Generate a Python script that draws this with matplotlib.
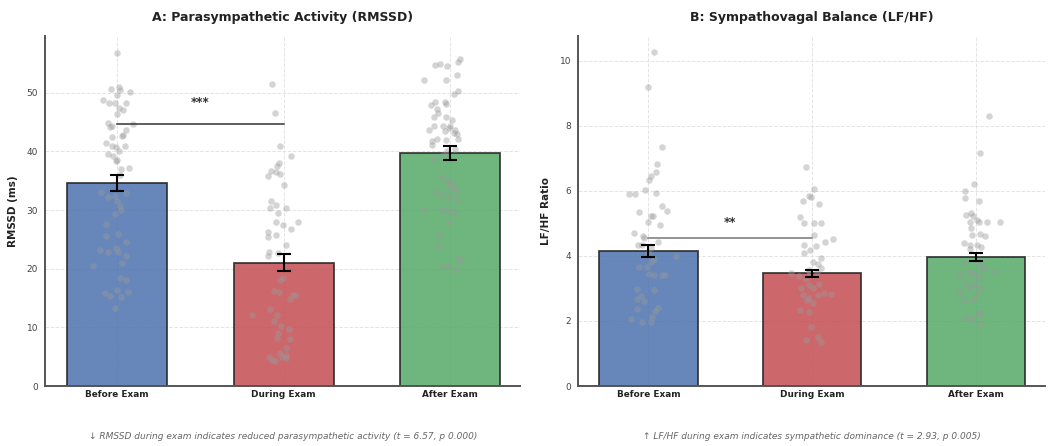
import numpy as np
import matplotlib
matplotlib.use("Agg")
import matplotlib.pyplot as plt

conditions = ["Before Exam", "During Exam", "After Exam"]
bar_colors = ["#4C72B0", "#C44E52", "#55A868"]

# bar heights and SEM
rmssd_mean = [34.6, 21.0, 39.7]
rmssd_sem = [1.4, 1.45, 1.15]
lfhf_mean = [4.15, 3.47, 3.98]
lfhf_sem = [0.18, 0.11, 0.12]

# individual subjects (values) and their horizontal jitter
rmssd_before = [56.8, 50.6, 51.0, 49.7, 50.1, 50.4, 48.8, 48.3, 48.2, 48.3, 47.4, 46.4, 47.1,
                44.8, 44.4, 44.1, 44.6, 43.6, 42.8, 42.6, 42.5, 41.4, 41.0, 40.8, 40.9, 39.5,
                39.3, 40.0, 38.6, 38.4, 37.1, 37.0, 35.9, 33.0, 32.2, 32.4, 32.9, 31.5, 30.7,
                30.0, 29.4, 27.6, 25.5, 26.0, 24.6, 23.2, 22.9, 23.5, 22.9, 21.0, 22.1, 20.4,
                18.5, 18.0, 15.8, 15.4, 16.4, 15.2, 16.1, 13.3]
rmssd_before_jit = [0.0, -0.036, 0.012, 0.0, 0.078, 0.018, -0.084, -0.046, -0.012, 0.056, 0.012,
                    0.0, 0.04, -0.052, -0.03, -0.042, 0.1, 0.054, 0.04, 0.032, -0.026, -0.062,
                    -0.026, -0.006, 0.048, -0.052, -0.022, 0.014, 0.004, -0.002, 0.072, 0.024,
                    0.018, -0.092, -0.052, -0.012, 0.058, 0.002, 0.018, 0.028, -0.012, -0.062,
                    -0.066, 0.008, 0.058, -0.102, -0.052, -0.002, 0.008, 0.032, 0.058, -0.143,
                    0.018, 0.054, -0.072, -0.042, 0.002, 0.028, 0.068, -0.012]
rmssd_during = [51.5, 46.6, 41.0, 39.2, 38.1, 37.5, 36.2, 36.5, 35.8, 36.6, 34.2, 31.6, 30.9,
                30.4, 30.4, 29.5, 28.0, 27.4, 28.0, 26.8, 26.2, 25.8, 25.4, 24.1, 22.9, 22.7,
                22.1, 18.4, 18.0, 16.2, 16.0, 15.5, 14.9, 15.5, 13.1, 12.1, 11.1, 12.1, 10.3,
                9.8, 9.0, 8.2, 8.1, 6.5, 5.0, 4.3, 4.9, 5.3, 4.8, 5.6, 4.4]
rmssd_during_jit = [-0.068, -0.05, -0.024, 0.042, -0.028, -0.038, -0.02, -0.048, -0.094, -0.074,
                    0.002, -0.074, -0.044, 0.012, -0.084, -0.034, -0.046, -0.004, 0.086, 0.042,
                    -0.094, -0.044, -0.094, 0.016, -0.088, -0.034, -0.094, -0.004, -0.02, -0.06,
                    -0.028, 0.056, 0.036, 0.072, -0.08, -0.04, -0.06, -0.189, -0.014, 0.032,
                    -0.034, -0.038, 0.04, 0.012, -0.088, -0.054, -0.01, 0.012, 0.016, -0.02, -0.07]
rmssd_after = [55.8, 55.2, 54.9, 54.7, 54.5, 52.2, 52.2, 53.1, 50.3, 49.8, 48.5, 48.4, 47.9,
               48.1, 47.2, 46.5, 45.8, 45.9, 45.4, 44.3, 44.3, 44.3, 43.6, 43.4, 44.0, 43.7,
               43.2, 43.0, 42.1, 41.8, 42.1, 42.0, 41.1, 40.4, 40.1, 38.7, 39.4, 35.6, 35.2,
               34.8, 33.8, 33.0, 32.6, 32.2, 31.9, 33.4, 34.1, 30.2, 30.0, 29.8, 29.6, 27.9,
               25.8, 23.9, 20.4, 20.5, 21.8, 21.4, 19.7]
rmssd_after_jit = [0.06, 0.048, -0.064, -0.09, -0.02, -0.158, -0.028, 0.042, 0.046, 0.022,
                   -0.034, -0.094, -0.118, -0.024, -0.078, -0.076, -0.098, -0.024, 0.01, -0.044,
                   -0.1, -0.002, 0.026, -0.034, -0.01, -0.126, 0.02, 0.042, 0.048, -0.11, -0.08,
                   -0.024, -0.11, 0.026, -0.018, -0.1, -0.044, -0.054, -0.02, 0.006, 0.016,
                   -0.086, -0.044, -0.004, 0.042, 0.036, -0.01, -0.158, -0.05, -0.012, 0.026,
                   -0.008, -0.07, -0.07, -0.044, -0.01, 0.05, 0.06, 0.034]

lfhf_before = [10.26, 9.21, 7.35, 6.83, 6.58, 6.47, 6.33, 6.02, 5.90, 5.90, 5.94, 5.55, 5.38,
               5.36, 5.24, 5.22, 5.06, 4.95, 4.70, 4.63, 4.55, 4.35, 4.33, 4.43, 4.25, 4.10,
               4.0, 3.67, 3.65, 3.82, 3.92, 3.45, 3.40, 3.43, 3.40, 2.97, 2.95, 2.77, 2.67,
               2.62, 2.36, 2.39, 2.32, 2.07, 2.13, 1.98, 1.98]
lfhf_before_jit = [0.037, -0.004, 0.082, 0.055, 0.049, 0.016, 0.004, -0.023, -0.118, -0.08,
                   0.049, 0.082, 0.115, -0.06, 0.018, 0.026, 0.0, 0.072, -0.086, -0.031, -0.025,
                   -0.066, -0.037, 0.057, 0.016, 0.0, 0.168, -0.055, -0.01, 0.016, 0.031, 0.004,
                   0.031, 0.082, 0.102, -0.072, 0.031, -0.047, -0.072, -0.025, -0.072, 0.061,
                   0.041, -0.108, 0.02, -0.041, 0.016]
lfhf_during = [6.75, 6.05, 5.83, 5.80, 5.68, 5.61, 5.19, 5.0, 5.0, 5.0, 4.65, 4.44, 4.52, 4.33,
               4.30, 4.18, 4.08, 3.93, 3.80, 3.75, 3.62, 3.57, 3.47, 3.39, 3.50, 3.50, 3.30,
               3.0, 3.0, 2.80, 2.72, 2.80, 2.85, 3.10, 3.15, 2.83, 2.65, 2.55, 2.35, 2.27,
               1.80, 1.52, 1.42, 1.36]
lfhf_during_jit = [-0.035, 0.012, -0.018, -0.008, -0.057, 0.043, -0.075, -0.049, 0.012, 0.053,
                   0.012, 0.08, 0.129, -0.049, 0.022, -0.014, -0.049, 0.053, 0.002, 0.033,
                   0.053, -0.018, -0.131, -0.08, -0.018, 0.029, -0.035, -0.069, 0.002, -0.055,
                   -0.018, 0.033, 0.074, -0.018, 0.039, 0.115, -0.029, 0.002, -0.075, -0.018,
                   -0.008, 0.033, -0.035, 0.053]
lfhf_after = [8.31, 7.18, 6.20, 6.01, 5.79, 5.68, 5.33, 5.26, 5.23, 5.10, 5.03, 5.05, 5.05,
              5.03, 4.85, 4.67, 4.62, 4.66, 4.40, 4.33, 4.33, 4.20, 4.28, 3.80, 3.82, 3.68,
              3.50, 3.45, 3.50, 3.45, 3.35, 3.59, 3.18, 3.14, 3.0, 2.90, 3.03, 2.80, 2.64,
              2.64, 2.08, 2.25, 2.05, 2.20, 1.90]
lfhf_after_jit = [0.08, 0.022, -0.01, -0.069, -0.069, 0.016, -0.031, -0.061, -0.02, 0.006,
                  -0.035, 0.016, 0.067, 0.149, -0.031, 0.027, 0.057, -0.025, -0.075, -0.035,
                  0.006, -0.035, 0.031, -0.065, 0.006, 0.031, -0.039, -0.01, 0.118, -0.096,
                  0.016, 0.047, -0.065, -0.01, 0.027, -0.096, -0.039, 0.006, -0.072, -0.02,
                  -0.059, 0.016, -0.025, 0.022, 0.022]

panels = [
    dict(title="A: Parasympathetic Activity (RMSSD)", ylabel="RMSSD (ms)",
         means=rmssd_mean, sems=rmssd_sem,
         points=[rmssd_before, rmssd_during, rmssd_after],
         jitter=[rmssd_before_jit, rmssd_during_jit, rmssd_after_jit],
         ylim=59.7, ticks=[0, 10, 20, 30, 40, 50], sig_y=44.7, sig_txt_y=47.2, sig="***",
         sig_color="#333333",
         note="\u2193 RMSSD during exam indicates reduced parasympathetic activity (t = 6.57, p 0.000)"),
    dict(title="B: Sympathovagal Balance (LF/HF)", ylabel="LF/HF Ratio",
         means=lfhf_mean, sems=lfhf_sem,
         points=[lfhf_before, lfhf_during, lfhf_after],
         jitter=[lfhf_before_jit, lfhf_during_jit, lfhf_after_jit],
         ylim=10.77, ticks=[0, 2, 4, 6, 8, 10], sig_y=4.56, sig_txt_y=4.82, sig="**",
         sig_color="#777777",
         note="\u2191 LF/HF during exam indicates sympathetic dominance (t = 2.93, p 0.005)"),
]

fig = plt.figure(figsize=(10.49, 4.46), dpi=100)
ax_pos = [[0.043, 0.1345, 0.453, 0.785], [0.551, 0.1345, 0.445, 0.785]]

x = np.arange(len(conditions))
for p, pos in zip(panels, ax_pos):
    ax = fig.add_axes(pos)
    ax.bar(x, p["means"], width=0.6, color=bar_colors, alpha=0.85,
           edgecolor="#222222", linewidth=1.3, zorder=2)
    ax.errorbar(x, p["means"], yerr=p["sems"], fmt="none", ecolor="black",
                elinewidth=1.5, capsize=5, capthick=1.5, zorder=4)
    for i in range(len(conditions)):
        xs = x[i] + np.array(p["jitter"][i])
        ax.scatter(xs, p["points"][i], s=22, color="#999999", alpha=0.42,
                   linewidths=0, zorder=3)
    ax.plot([0, 1], [p["sig_y"], p["sig_y"]], color=p["sig_color"], lw=1.1, zorder=5)
    ax.text(0.5, p["sig_txt_y"], p["sig"], ha="center", va="bottom",
            fontsize=8.5, fontweight="bold", color="#333333")

    ax.set_xlim(-0.43, 2.42)
    ax.set_ylim(0, p["ylim"])
    ax.set_yticks(p["ticks"])
    ax.set_xticks(x)
    ax.set_xticklabels(conditions, fontsize=6.4, fontweight="bold", color="#222222")
    ax.tick_params(axis="y", labelsize=6.5, labelcolor="#444444", length=0, pad=5)
    ax.tick_params(axis="x", length=0, pad=3)
    ax.set_ylabel(p["ylabel"], fontsize=7.5, fontweight="bold", color="#222222", labelpad=6)
    ax.set_title(p["title"], fontsize=9, fontweight="bold", color="#222222", pad=11)
    ax.grid(True, linestyle="--", linewidth=0.7, color="#dddddd", alpha=0.8, zorder=0)
    ax.set_axisbelow(True)
    for side in ["top", "right"]:
        ax.spines[side].set_visible(False)
    for side in ["left", "bottom"]:
        ax.spines[side].set_color("#555555")
        ax.spines[side].set_linewidth(1.4)
    ax.text(0.5, -0.145, p["note"], transform=ax.transAxes, ha="center", va="center",
            fontsize=6.5, style="italic", color="#666666")

fig.savefig("out.png", dpi=100)
